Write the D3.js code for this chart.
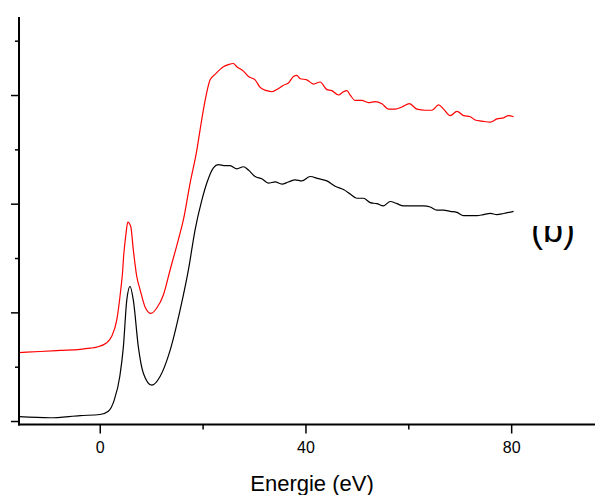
<!DOCTYPE html>
<html>
<head>
<meta charset="utf-8">
<script src="https://cdn.jsdelivr.net/npm/d3@7"></script>
<style>
html,body{margin:0;padding:0;background:#fff;}
svg{display:block;font-family:"Liberation Sans",Arial,sans-serif;}
</style>
</head>
<body>
<svg id="chart" width="595" height="495"></svg>
<script>
// Energy (eV) and intensity (arb. units)
const blackX = [-15.7,-9.7,-3.8,0.06,1.67,2.8,3.9,4.59,5.25,5.89,6.54,7.51,8.48,10.12,11.73,13.68,15.62,17.24,18.54,19.84,20.82,22.10,23.07,24.38,25.35,26.65,27.94,28.91,30.21,31.52,32.80,34.11,35.41,36.69,38.00,39.30,40.91,42.53,44.16,45.78,47.39,48.70,50.00,51.28,52.59,53.89,55.18,56.48,57.78,59.07,60.37,61.67,62.96,64.26,65.56,66.85,68.15,69.46,70.74,72.04,73.35,74.63,75.93,77.24,78.52,80.47];
const blackY = [0.04,0.03,0.05,0.06,0.09,0.19,0.41,0.68,1.11,1.24,1.11,0.68,0.44,0.33,0.41,0.65,1.02,1.39,1.76,2.03,2.19,2.33,2.36,2.35,2.35,2.32,2.34,2.31,2.25,2.23,2.19,2.20,2.18,2.20,2.22,2.21,2.25,2.23,2.21,2.16,2.13,2.09,2.05,2.05,2.01,2.00,1.98,2.02,2.00,1.98,1.98,1.98,1.98,1.97,1.94,1.94,1.93,1.92,1.89,1.89,1.89,1.90,1.91,1.90,1.91,1.93];
const redX = [-15.7,-11.6,-7.7,-3.8,-1.9,-0.6,1.36,2.33,3.31,4.09,4.47,4.59,5.12,5.45,6.03,6.54,7.20,7.84,8.81,9.98,11.09,12.37,13.68,15.29,16.26,17.57,18.87,19.51,20.49,21.46,22.43,24.05,25.02,25.99,26.65,27.94,28.91,30.21,31.19,32.49,33.46,34.75,35.72,36.69,37.67,38.33,38.97,40.27,41.56,42.86,44.16,45.14,46.42,47.39,48.05,48.70,49.67,50.97,52.26,53.56,54.86,56.15,57.45,58.75,60.23,61.67,63.29,64.59,65.88,66.85,68.15,69.46,70.74,72.04,73.02,74.32,75.93,77.24,78.52,79.49,80.47];
const redY = [0.63,0.64,0.65,0.66,0.67,0.68,0.72,0.78,0.93,1.21,1.39,1.48,1.73,1.83,1.79,1.57,1.33,1.21,1.05,0.99,1.04,1.16,1.39,1.67,1.85,2.19,2.49,2.68,2.95,3.14,3.19,3.26,3.28,3.29,3.26,3.22,3.17,3.14,3.07,3.04,3.03,3.06,3.09,3.11,3.17,3.18,3.15,3.14,3.10,3.12,3.05,3.04,3.00,3.03,3.04,3.00,2.95,2.95,2.93,2.94,2.92,2.87,2.87,2.89,2.92,2.87,2.86,2.86,2.91,2.87,2.81,2.85,2.81,2.80,2.77,2.76,2.75,2.78,2.79,2.81,2.80];
const xMajorTicks = [0,40,80];
const xMinorTicks = [20,60];
const yMajorTicks = [0,1,2,3];
const yMinorTicks = [0.5,1.5,2.5,3.5];
const xTitle = "Energie (eV)";
const panelLabel = "(b)";

const svg = d3.select("#chart");
const x = d3.scaleLinear().domain([-15.7, 96.3]).range([19, 595]);
const y = d3.scaleLinear().domain([-0.032, 3.718]).range([424.5, 17]);

const line = d3.line().x(d => x(d[0])).y(d => y(d[1])).curve(d3.curveMonotoneX);
const black = blackX.map((v,i)=>[v, blackY[i]]);
const red = redX.map((v,i)=>[v, redY[i]]);

svg.append("path").datum(black).attr("d", line).attr("fill","none").attr("stroke","#000").attr("stroke-width",1.2);
svg.append("path").datum(red).attr("d", line).attr("fill","none").attr("stroke","#ff0000").attr("stroke-width",1.2);

// Axes
const xAxis = d3.axisBottom(x).tickValues(xMajorTicks).tickSize(9).tickPadding(8).tickFormat(d3.format("d"));
const gx = svg.append("g").attr("transform", `translate(0,${y(-0.032)})`).call(xAxis);
gx.select(".domain").remove();
gx.selectAll(".tick line").attr("stroke-width",1.5);
gx.selectAll(".tick text").attr("font-size",16).attr("font-family","Liberation Sans, Arial, sans-serif").attr("fill","#000");
const xMinor = d3.axisBottom(x).tickValues(xMinorTicks).tickSize(5).tickFormat("");
const gxm = svg.append("g").attr("transform", `translate(0,${y(-0.032)})`).call(xMinor);
gxm.select(".domain").remove();
gxm.selectAll(".tick line").attr("stroke-width",1.5);

const yAxis = d3.axisLeft(y).tickValues(yMajorTicks).tickSize(8).tickFormat("");
const gy = svg.append("g").attr("transform", `translate(${x(-15.7)},0)`).call(yAxis);
gy.select(".domain").remove();
gy.selectAll(".tick line").attr("stroke-width",1.5);
const yMinor = d3.axisLeft(y).tickValues(yMinorTicks).tickSize(4).tickFormat("");
const gym = svg.append("g").attr("transform", `translate(${x(-15.7)},0)`).call(yMinor);
gym.select(".domain").remove();
gym.selectAll(".tick line").attr("stroke-width",1.5);

// axis lines
svg.append("line").attr("x1", x(-15.7)).attr("x2", x(-15.7)).attr("y1", y(3.718)).attr("y2", y(-0.032)+1)
  .attr("stroke","#000").attr("stroke-width",2);
svg.append("line").attr("x1", x(-15.7)-1).attr("x2", x(96.3)).attr("y1", y(-0.032)).attr("y2", y(-0.032))
  .attr("stroke","#000").attr("stroke-width",2);

// x title
svg.append("text").attr("x", 312).attr("y", 491).attr("text-anchor","middle")
  .attr("font-size",22).attr("fill","#000").text(xTitle);

// partially hidden panel label
svg.append("clipPath").attr("id","lblclip").append("rect").attr("x",500).attr("y",226).attr("width",95).attr("height",60);
svg.append("text").attr("x", 553).attr("y", 242).attr("text-anchor","middle")
  .attr("font-size",36).attr("fill","#000").attr("clip-path","url(#lblclip)").text(panelLabel);
</script>
</body>
</html>
